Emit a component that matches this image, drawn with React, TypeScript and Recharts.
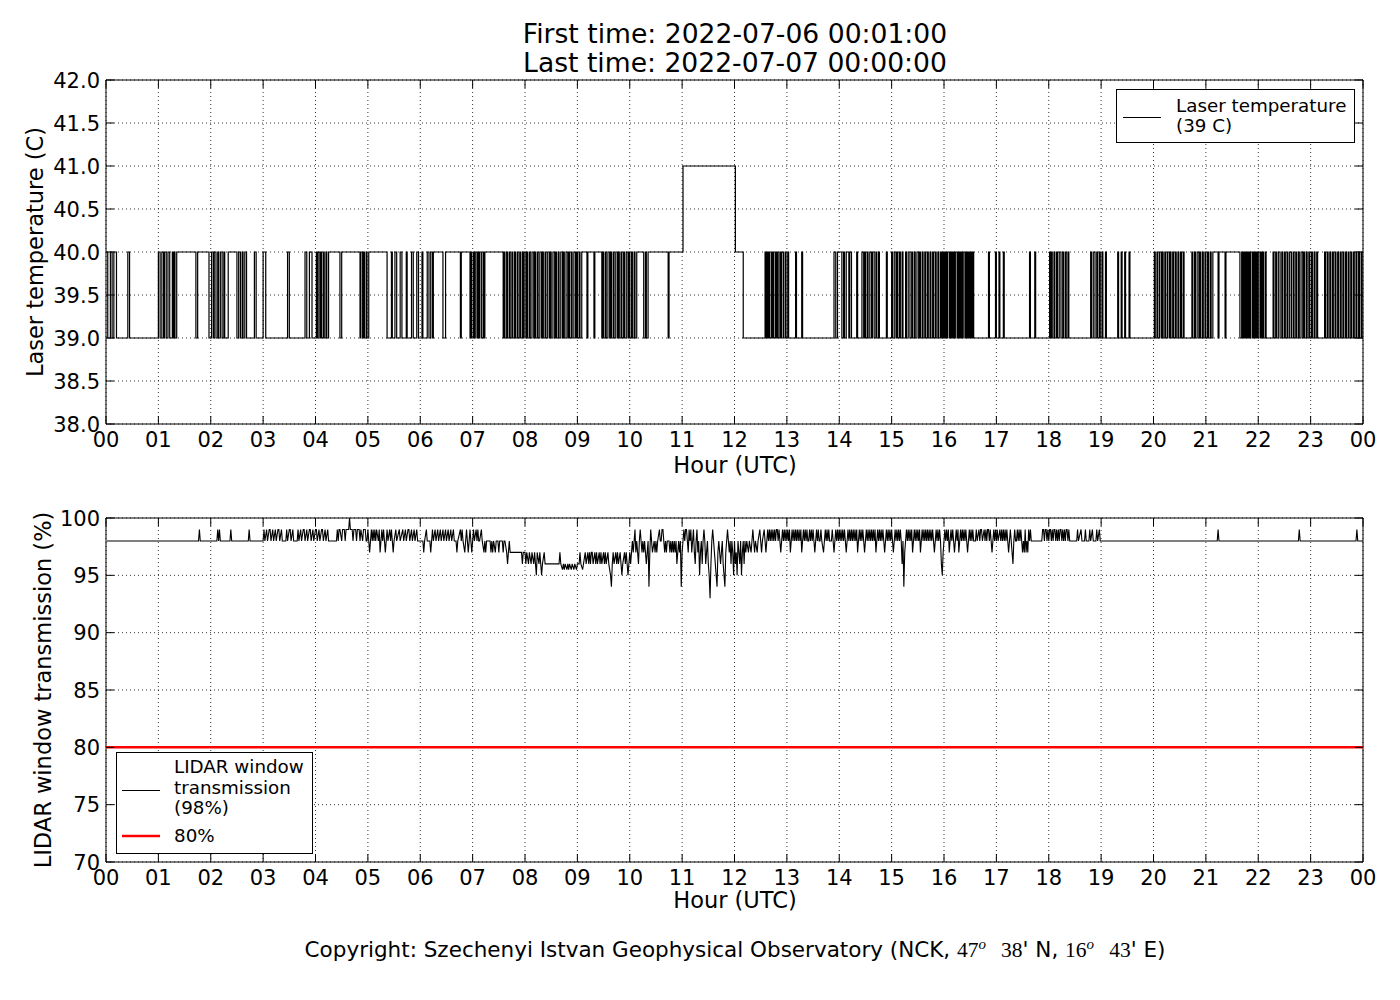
import React from 'react';
import { LineChart, Line, XAxis, YAxis, CartesianGrid, ReferenceArea, ReferenceLine } from 'recharts';

// hour axis shared by both panels
const hourTicks = [0, 1, 2, 3, 4, 5, 6, 7, 8, 9, 10, 11, 12, 13, 14, 15, 16, 17, 18, 19, 20, 21, 22, 23, 24];
const hourLabels = ['00', '01', '02', '03', '04', '05', '06', '07', '08', '09', '10', '11', '12', '13', '14', '15', '16', '17', '18', '19', '20', '21', '22', '23', '00'];
const laserTicks = [38, 38.5, 39, 39.5, 40, 40.5, 41, 41.5, 42];
const lidarTicks = [70, 75, 80, 85, 90, 95, 100];
const lidarThreshold = 80;

// laser temperature change log: [minute of day, value from then on]
const laserSteps: [number, number][] = [
  [1, 40], [2, 39], [5, 40], [7, 39], [9, 40], [12, 39], [25, 40], [27, 39],
  [60, 40], [62, 39], [64, 40], [66, 39], [67, 40], [69, 39], [71, 40], [73, 39], [76, 40], [77, 39], [78, 40], [79, 39], [81, 40], [103, 39], [105, 40], [118, 39],
  [121, 40], [123, 39], [124, 40], [126, 39], [128, 40], [129, 39], [131, 40], [133, 39], [135, 40], [136, 39], [140, 40], [150, 39], [152, 40], [154, 39], [156, 40], [157, 39], [159, 40], [161, 39],
  [170, 40], [172, 39], [180, 40], [183, 39], [208, 40], [210, 39], [228, 40], [230, 39], [233, 40], [236, 39],
  [241, 40], [242, 39], [243, 40], [245, 39], [246, 40], [247, 39], [249, 40], [250, 39], [252, 40], [253, 39], [255, 40], [268, 39], [270, 40], [291, 39], [292, 40], [294, 39], [295, 40], [296, 39], [298, 40], [299, 39], [301, 40], [322, 39],
  [327, 40], [328, 39], [331, 40], [333, 39], [337, 40], [339, 39], [344, 40], [345, 39], [350, 40], [352, 39], [356, 40], [358, 39], [362, 40], [363, 39], [368, 40], [370, 39], [372, 40], [374, 39],
  [375, 40], [386, 39], [389, 40], [406, 39], [407, 40], [417, 39], [418, 40], [419, 39], [421, 40], [422, 39], [423, 40], [425, 39], [426, 40], [427, 39], [428, 40], [430, 39],
  [432, 40], [433, 39], [434, 40], [455, 39], [456, 40], [457, 39], [459, 40], [460, 39], [462, 40], [463, 39], [465, 40], [466, 39], [468, 40], [469, 39], [471, 40], [472, 39],
  [474, 40], [475, 39], [477, 40], [478, 39], [479, 40], [481, 39], [482, 40], [483, 39], [485, 40], [486, 39], [488, 40], [490, 39], [491, 40], [492, 39], [494, 40], [495, 39], [497, 40], [499, 39],
  [500, 40], [501, 39], [503, 40], [504, 39], [506, 40], [508, 39], [509, 40], [510, 39], [512, 40], [514, 39], [515, 40], [516, 39], [518, 40], [519, 39], [521, 40], [523, 39], [524, 40], [525, 39],
  [527, 40], [529, 39], [530, 40], [531, 39], [533, 40], [534, 39], [536, 40], [538, 39], [539, 40], [540, 39], [542, 40], [543, 39], [545, 40], [551, 39], [552, 40], [559, 39], [560, 40], [568, 39],
  [569, 40], [570, 39], [572, 40], [573, 39], [575, 40], [577, 39], [578, 40], [579, 39], [581, 40], [582, 39], [584, 40], [586, 39], [587, 40], [588, 39], [590, 40], [591, 39], [593, 40], [594, 39],
  [596, 40], [598, 39], [599, 40], [600, 39], [602, 40], [603, 39], [605, 40], [606, 39], [608, 40], [616, 39], [618, 40], [619, 39], [621, 40], [644, 39], [645, 40], [661, 41], [721, 40], [730, 39],
  [755, 40], [756, 39], [757, 40], [758, 39], [759, 40], [760, 39], [762, 40], [763, 39], [764, 40], [765, 39], [767, 40], [768, 39], [769, 40], [770, 39], [772, 40], [773, 39], [774, 40], [776, 39], [778, 40], [779, 39], [781, 40], [782, 39],
  [790, 40], [791, 39], [797, 40], [798, 39],
  [834, 40], [836, 39], [838, 40], [843, 39], [845, 40], [846, 39], [848, 40], [851, 39], [852, 40], [854, 39], [860, 40], [861, 39], [866, 40], [868, 39], [869, 40], [870, 39], [872, 40], [873, 39],
  [875, 40], [877, 39], [878, 40], [880, 39], [882, 40], [883, 39], [885, 40], [886, 39], [894, 40], [895, 39], [900, 40], [901, 39], [903, 40], [905, 39], [906, 40], [907, 39], [909, 40], [910, 39],
  [912, 40], [913, 39], [916, 40], [917, 39], [919, 40], [921, 39], [923, 40], [924, 39], [926, 40], [927, 39], [929, 40], [931, 39], [932, 40], [933, 39], [935, 40], [936, 39], [938, 40], [939, 39],
  [941, 40], [942, 39], [944, 40], [945, 39], [947, 40], [948, 39], [950, 40], [951, 39], [953, 40], [954, 39],
  [956, 40], [957, 39], [958, 40], [959, 39], [960, 40], [961, 39], [962, 40], [963, 39], [964, 40], [966, 39], [967, 40], [968, 39], [969, 40], [970, 39], [971, 40], [972, 39], [973, 40], [975, 39],
  [976, 40], [977, 39], [978, 40], [979, 39], [980, 40], [981, 39], [982, 40], [984, 39], [985, 40], [986, 39], [987, 40], [988, 39], [989, 40], [990, 39], [991, 40], [992, 39], [993, 40], [994, 39],
  [1011, 40], [1012, 39], [1019, 40], [1020, 39], [1023, 40], [1024, 39], [1028, 40], [1029, 39], [1058, 40], [1059, 39], [1064, 40], [1065, 39],
  [1081, 40], [1082, 39], [1083, 40], [1084, 39], [1086, 40], [1087, 39], [1089, 40], [1090, 39], [1092, 40], [1094, 39], [1096, 40], [1097, 39], [1099, 40], [1100, 39], [1102, 40], [1103, 39],
  [1128, 40], [1129, 39], [1131, 40], [1133, 39], [1135, 40], [1136, 39], [1138, 40], [1139, 39], [1141, 40], [1142, 39], [1145, 40], [1146, 39],
  [1159, 40], [1160, 39], [1163, 40], [1164, 39], [1167, 40], [1168, 39], [1172, 40], [1173, 39],
  [1201, 40], [1202, 39], [1204, 40], [1205, 39], [1207, 40], [1209, 39], [1210, 40], [1211, 39], [1213, 40], [1214, 39], [1216, 40], [1218, 39], [1219, 40], [1220, 39], [1222, 40], [1223, 39],
  [1225, 40], [1226, 39], [1228, 40], [1229, 39], [1231, 40], [1232, 39], [1234, 40], [1235, 39], [1244, 40], [1245, 39], [1247, 40], [1248, 39], [1250, 40], [1252, 39], [1253, 40], [1254, 39],
  [1256, 40], [1257, 39], [1259, 40], [1260, 39], [1262, 40], [1263, 39], [1265, 40], [1266, 39], [1268, 40], [1274, 39], [1275, 40], [1282, 39], [1283, 40], [1299, 39],
  [1301, 40], [1302, 39], [1303, 40], [1304, 39], [1305, 40], [1306, 39], [1307, 40], [1308, 39], [1309, 40], [1310, 39], [1311, 40], [1313, 39], [1314, 40], [1315, 39], [1316, 40], [1317, 39],
  [1318, 40], [1319, 39], [1320, 40], [1322, 39], [1323, 40], [1324, 39], [1325, 40], [1326, 39], [1328, 40], [1329, 39], [1337, 40], [1338, 39], [1340, 40], [1341, 39], [1343, 40], [1345, 39],
  [1347, 40], [1348, 39], [1350, 40], [1351, 39], [1353, 40], [1354, 39], [1356, 40], [1358, 39], [1360, 40], [1361, 39], [1363, 40], [1364, 39], [1366, 40], [1367, 39], [1369, 40], [1371, 39],
  [1372, 40], [1373, 39], [1375, 40], [1376, 39], [1378, 40], [1379, 39], [1381, 40], [1382, 39], [1384, 40], [1385, 39], [1387, 40], [1388, 39], [1396, 40], [1397, 39], [1399, 40], [1400, 39],
  [1402, 40], [1403, 39], [1405, 40], [1406, 39], [1408, 40], [1409, 39], [1411, 40], [1412, 39], [1414, 40], [1415, 39], [1417, 40], [1418, 39], [1420, 40], [1421, 39], [1423, 40], [1424, 39],
  [1426, 40], [1427, 39], [1429, 40], [1430, 39], [1432, 40], [1433, 39], [1435, 40], [1436, 39], [1438, 40], [1439, 39], [1440, 39],
];

// LIDAR window transmission samples: [minute of day, percent]
const lidarSamples: [number, number][] = [
  [1, 98], [106, 98], [107, 99], [108, 98], [127, 98], [128, 99], [129, 98], [130, 99], [131, 98], [142, 98], [143, 99], [144, 98], [163, 98], [164, 99], [165, 98],
  [180, 98], [181, 99], [182, 98], [184, 99], [185, 98], [187, 99], [188, 99], [189, 98], [191, 99], [192, 98], [194, 99], [195, 98], [197, 99], [198, 99], [199, 98], [201, 99], [202, 98],
  [206, 98], [207, 99], [208, 98], [210, 99], [211, 99], [212, 98], [214, 99], [215, 98], [219, 98], [220, 99], [221, 98], [223, 99], [224, 98], [226, 99], [227, 99], [228, 98], [230, 99], [231, 98],
  [233, 99], [234, 99], [235, 98], [237, 99], [238, 98], [240, 99], [241, 99], [242, 98], [244, 99], [245, 98], [247, 99], [248, 99], [249, 98], [251, 99], [252, 98], [254, 99], [255, 98],
  [264, 98], [265, 99], [266, 98], [267, 99], [268, 99], [270, 98], [271, 99], [273, 99], [274, 98], [275, 99], [278, 99], [279, 100], [280, 99], [282, 99], [283, 98], [284, 99], [286, 99], [287, 98],
  [288, 99], [290, 99], [291, 98], [292, 99], [294, 98], [295, 99], [297, 99], [298, 98],
  [299, 98], [300, 99], [301, 98], [302, 97], [303, 98], [304, 99], [305, 98], [306, 99], [307, 98], [308, 99], [309, 98], [310, 99], [312, 98], [313, 99], [314, 97], [315, 98], [316, 99], [317, 98],
  [318, 99], [320, 97], [321, 98], [322, 99], [323, 98], [325, 99], [326, 98], [327, 99], [328, 98], [329, 97], [330, 98], [332, 99], [333, 98], [336, 99], [337, 98], [340, 99], [341, 98], [343, 99],
  [344, 98], [346, 99], [347, 99], [348, 98], [350, 99], [351, 98], [353, 99], [354, 98], [356, 99], [357, 98], [363, 98], [364, 97], [365, 98], [367, 99], [368, 98], [371, 98], [372, 97], [373, 98],
  [374, 99], [375, 98], [377, 99], [378, 98], [380, 99], [381, 98], [383, 99], [384, 98], [386, 99], [387, 98], [389, 99], [390, 98], [392, 99], [393, 98], [395, 99], [396, 98], [398, 99], [399, 98],
  [401, 98], [402, 97], [403, 98], [406, 99], [407, 98], [408, 99], [409, 98], [411, 97], [412, 98], [413, 99], [414, 98], [415, 97], [416, 98], [417, 99], [418, 98], [419, 97], [420, 98], [421, 99],
  [422, 98], [424, 99], [425, 98], [426, 99], [427, 98],
  [428, 98], [430, 99], [431, 98], [433, 97], [434, 98], [435, 97], [436, 98], [440, 98], [441, 97], [442, 98], [443, 97], [444, 98], [446, 97], [447, 98], [449, 98], [450, 97], [451, 98], [454, 98],
  [455, 97], [456, 98], [457, 98], [459, 97], [460, 96], [461, 97], [462, 98], [463, 97], [476, 97],
  [477, 96], [478, 97], [480, 97], [481, 96], [482, 97], [484, 96], [485, 97], [487, 96], [488, 97], [490, 96], [491, 97], [493, 95], [494, 97], [496, 96], [497, 97], [499, 95], [500, 96], [502, 97], [503, 96],
  [505, 96], [519, 96], [520, 97], [521, 96],
  [523, 95.5], [524, 96], [525, 95.5], [526, 96], [528, 95.5], [529, 96], [530, 95.5], [531, 96], [533, 95.5], [534, 96], [536, 95.5], [537, 96], [539, 95.5], [540, 96], [542, 96], [543, 97], [544, 96],
  [546, 95.5], [547, 96], [549, 97], [550, 96],
  [552, 97], [553, 96], [554, 97], [555, 96], [556, 97], [557, 97], [558, 96], [560, 97], [561, 96], [562, 97], [563, 96], [565, 97], [566, 96], [567, 97], [568, 96], [570, 97], [571, 96], [572, 97],
  [573, 96], [575, 97], [576, 96],
  [578, 95], [579, 94], [580, 96], [581, 97], [582, 96], [584, 97], [585, 96], [586, 97], [587, 96], [589, 97], [590, 96], [591, 95], [592, 96], [594, 97], [595, 96], [596, 97], [597, 96], [598, 95], [599, 96],
  [600, 97], [601, 96], [602, 97], [603, 98], [604, 97], [605, 98], [606, 99], [607, 97], [608, 98], [609, 97], [610, 96], [611, 98], [612, 99], [613, 98], [614, 97], [615, 98], [616, 97], [617, 98],
  [618, 97], [619, 96], [620, 97], [621, 98], [622, 94], [623, 97],
  [624, 99], [625, 98], [626, 97], [628, 98], [629, 97], [630, 98], [631, 97], [632, 98], [634, 99], [635, 98], [636, 98], [637, 99],
  [638, 99], [639, 98], [640, 97], [641, 98], [642, 97], [643, 98], [645, 98], [646, 97], [647, 98], [648, 97], [649, 98], [650, 97], [651, 98], [652, 97], [653, 98], [654, 96], [655, 97], [656, 98], [657, 97],
  [658, 98], [659, 94], [660, 97], [661, 98],
  [662, 99], [663, 98], [664, 99], [665, 99], [666, 98], [667, 97], [668, 99], [669, 98], [670, 99], [671, 97], [672, 98], [673, 99], [674, 97], [675, 96], [676, 98], [677, 99], [678, 97], [679, 98],
  [680, 95], [681, 97], [682, 98], [683, 96], [684, 98], [685, 99], [686, 98], [687, 96], [688, 97],
  [689, 98], [690, 96], [691, 95], [692, 93], [693, 96],
  [694, 98], [695, 99], [696, 98], [697, 97], [698, 96], [699, 95], [700, 94], [701, 97], [702, 98], [703, 97], [704, 96], [705, 97], [706, 98], [707, 96], [708, 95], [709, 94], [710, 97], [711, 98],
  [712, 99], [713, 98], [714, 97], [715, 98], [716, 96], [717, 98], [718, 97], [719, 95], [720, 98], [721, 96], [722, 97], [723, 95], [724, 98], [725, 97], [726, 96], [727, 98], [728, 95], [729, 97],
  [730, 98], [731, 96], [732, 98], [733, 97], [734, 98], [736, 97], [737, 98], [739, 97], [740, 98],
  [741, 99], [742, 98], [743, 97], [744, 98], [746, 97], [747, 98], [749, 99], [750, 98], [751, 97], [752, 98], [754, 99], [755, 98], [756, 97], [757, 98], [758, 99], [759, 98], [760, 99], [761, 98],
  [762, 99], [763, 98],
  [764, 99], [765, 98], [766, 99], [767, 98], [768, 99], [769, 99], [770, 98], [771, 99], [772, 98], [773, 97], [774, 98], [775, 99], [776, 98], [777, 99], [778, 98], [779, 99], [780, 98], [781, 99],
  [782, 98], [783, 99], [784, 97], [785, 98], [786, 99], [787, 98], [788, 99], [789, 98], [790, 99], [791, 98], [792, 99], [793, 98], [794, 99], [795, 98], [796, 99], [797, 97], [798, 98], [799, 99],
  [800, 98], [801, 99], [802, 98], [803, 99], [804, 98], [805, 98], [806, 99], [807, 98], [808, 99], [809, 98], [810, 99], [811, 98], [812, 97], [813, 98], [814, 99], [815, 98], [816, 99], [817, 98],
  [818, 98], [819, 99], [820, 98], [822, 97], [823, 98], [824, 99], [825, 98], [826, 99], [827, 98], [828, 99], [829, 98], [831, 98], [832, 99], [833, 98], [834, 97], [835, 98], [836, 99], [837, 98],
  [838, 99], [839, 98],
  [840, 99], [841, 98], [842, 99], [843, 98], [844, 99], [845, 98], [846, 99], [847, 98], [848, 97], [849, 98], [850, 99], [851, 98], [852, 99], [853, 98], [854, 99], [855, 98], [856, 99], [857, 98],
  [858, 99], [859, 98], [860, 99], [861, 97], [862, 98], [863, 99], [864, 98], [865, 99], [866, 98], [867, 99], [868, 98], [869, 97], [870, 98], [871, 99], [872, 98], [873, 99], [874, 98], [875, 99],
  [876, 98], [877, 99], [878, 98], [879, 99], [880, 98], [881, 99], [882, 97], [883, 98], [884, 99], [885, 98], [886, 99], [887, 98], [888, 99], [889, 98], [890, 99], [891, 98], [892, 97], [893, 98],
  [894, 99], [895, 98], [896, 99], [897, 98], [898, 99], [899, 98], [900, 99], [901, 98], [902, 97], [903, 98], [904, 99], [905, 98], [906, 99], [907, 98], [908, 99], [909, 98], [910, 99], [911, 98],
  [912, 96], [913, 98], [914, 94], [915, 97], [916, 98],
  [917, 99], [918, 98], [919, 99], [920, 98], [921, 99], [922, 98], [923, 99], [924, 97], [925, 98], [926, 99], [927, 98], [928, 99], [929, 98], [930, 99], [931, 98], [932, 99], [933, 97], [934, 98],
  [935, 99], [936, 98], [937, 99], [938, 98], [939, 99], [940, 98], [941, 99], [942, 98], [943, 99], [944, 98], [945, 99], [946, 98], [947, 99], [948, 98], [949, 97], [950, 98], [951, 99], [952, 98],
  [953, 99], [954, 98], [955, 99], [956, 98], [957, 96], [958, 95], [959, 97], [960, 98], [961, 99], [962, 98], [963, 99], [964, 98], [965, 99], [966, 97], [967, 98], [968, 99], [969, 98], [970, 99],
  [971, 98], [972, 97], [973, 98], [974, 99], [975, 98], [976, 99], [977, 97], [978, 98], [979, 99], [980, 98], [981, 99], [982, 98], [983, 99], [984, 98], [985, 99], [986, 98], [987, 97], [988, 98],
  [989, 99], [990, 98], [991, 99], [992, 98], [993, 99],
  [994, 98], [996, 98], [997, 99], [998, 98], [1000, 99], [1001, 98], [1002, 99], [1003, 99], [1004, 98], [1006, 99], [1007, 98], [1008, 99], [1009, 98], [1010, 99], [1011, 99], [1012, 98], [1013, 99],
  [1014, 98], [1015, 97], [1016, 98],
  [1017, 99], [1018, 98], [1019, 99], [1020, 98], [1021, 99], [1022, 98], [1024, 99], [1025, 98], [1026, 99], [1027, 98], [1028, 99], [1029, 98], [1030, 99], [1031, 98], [1032, 99], [1033, 98],
  [1034, 97], [1035, 98], [1036, 99], [1037, 98], [1038, 97], [1039, 96], [1040, 98], [1041, 99], [1042, 98],
  [1043, 98], [1044, 99], [1045, 98], [1046, 99], [1047, 98], [1048, 99], [1049, 98], [1050, 97], [1051, 98], [1052, 97], [1053, 99], [1054, 97], [1055, 98], [1056, 97], [1057, 99], [1058, 98],
  [1059, 99], [1060, 98], [1072, 98],
  [1073, 99], [1074, 99], [1075, 98], [1076, 99], [1077, 99], [1078, 98], [1079, 99], [1080, 98], [1081, 99], [1082, 99], [1083, 98], [1084, 99], [1085, 98], [1086, 99], [1087, 99], [1088, 98],
  [1089, 99], [1090, 98], [1091, 99], [1092, 98], [1093, 99], [1094, 99], [1095, 98], [1096, 99], [1097, 98], [1098, 99], [1099, 98], [1100, 99], [1101, 99], [1102, 98], [1103, 99], [1104, 98],
  [1112, 98], [1113, 99], [1114, 98], [1117, 99], [1118, 98], [1121, 98], [1122, 99], [1123, 98], [1126, 98], [1127, 99], [1128, 98], [1130, 99], [1131, 98], [1134, 98], [1135, 99], [1136, 98],
  [1138, 99], [1139, 98],
  [1273, 98], [1274, 99], [1275, 98], [1366, 98], [1367, 99], [1368, 98], [1432, 98], [1433, 99], [1434, 98], [1440, 98],
];

const laserData = laserSteps.map(([m, v]) => ({ h: m / 60, v }));
const lidarData = lidarSamples.map(([m, v]) => ({ h: m / 60, v }));

const FONT = '"DejaVu Sans", sans-serif';
const SERIF = '"Liberation Serif", serif';
const PLOT_W = 1257;
const PLOT_H = 344;

// matplotlib-classic ticks: pointing inward, drawn on both sides of the frame
const xTick = (props: any) => {
  const { x, y, payload } = props;
  const i = hourTicks.indexOf(payload.value);
  return (
    <g>
      <line x1={x} y1={y} x2={x} y2={y - 8} stroke="#000" />
      <line x1={x} y1={y - PLOT_H} x2={x} y2={y - PLOT_H + 8} stroke="#000" />
      <text x={x} y={y + 23} textAnchor="middle" fontSize={21} fontFamily={FONT} fill="#000">{hourLabels[i]}</text>
    </g>
  );
};

const yTick = (fmt: (v: number) => string) => (props: any) => {
  const { x, y, payload } = props;
  return (
    <g>
      <line x1={x} y1={y} x2={x + 8} y2={y} stroke="#000" />
      <line x1={x + PLOT_W - 8} y1={y} x2={x + PLOT_W} y2={y} stroke="#000" />
      <text x={x - 6} y={y + 7.5} textAnchor="end" fontSize={21} fontFamily={FONT} fill="#000">{fmt(payload.value)}</text>
    </g>
  );
};

const margin = { top: 80, right: 37, bottom: 0, left: 0 };

export default function App() {
  return (
    <div style={{ position: 'relative', width: 1400, height: 1000, background: '#fff' }}>
      <style>{'body{margin:0;background:#fff}'}</style>

      <div style={{ position: 'absolute', left: 0, top: 0 }}>
        <LineChart width={1400} height={480} data={laserData} margin={margin}>
          <CartesianGrid stroke="#000" strokeDasharray="1 3" strokeWidth={0.8} />
          <XAxis dataKey="h" type="number" domain={[0, 24]} ticks={hourTicks} interval={0} tick={xTick}
            tickLine={false} axisLine={false} tickSize={0} tickMargin={0} height={56} allowDataOverflow />
          <YAxis type="number" domain={[38, 42]} ticks={laserTicks} interval={0} tick={yTick(v => v.toFixed(1))}
            tickLine={false} axisLine={false} tickSize={0} tickMargin={0} width={106} allowDataOverflow />
          <ReferenceArea x1={0} x2={24} y1={38} y2={42} fill="none" fillOpacity={0} stroke="#000" strokeWidth={1} ifOverflow="visible" />
          <Line dataKey="v" type="stepAfter" stroke="#000" strokeWidth={1.2} dot={false} isAnimationActive={false} />
        </LineChart>
      </div>

      <div style={{ position: 'absolute', left: 0, top: 438 }}>
        <LineChart width={1400} height={480} data={lidarData} margin={margin}>
          <CartesianGrid stroke="#000" strokeDasharray="1 3" strokeWidth={0.8} />
          <XAxis dataKey="h" type="number" domain={[0, 24]} ticks={hourTicks} interval={0} tick={xTick}
            tickLine={false} axisLine={false} tickSize={0} tickMargin={0} height={56} allowDataOverflow />
          <YAxis type="number" domain={[70, 100]} ticks={lidarTicks} interval={0} tick={yTick(v => String(v))}
            tickLine={false} axisLine={false} tickSize={0} tickMargin={0} width={106} allowDataOverflow />
          <ReferenceArea x1={0} x2={24} y1={70} y2={100} fill="none" fillOpacity={0} stroke="#000" strokeWidth={1} ifOverflow="visible" />
          <ReferenceLine y={lidarThreshold} stroke="#ff0000" strokeWidth={2.5} />
          <Line dataKey="v" type="linear" stroke="#000" strokeWidth={1.1} dot={false} isAnimationActive={false} />
        </LineChart>
      </div>

      <svg width={1400} height={1000} style={{ position: 'absolute', left: 0, top: 0, pointerEvents: 'none' }}
        fontFamily={FONT} fill="#000">
        <text x={735} y={43} textAnchor="middle" fontSize={26.6}>First time: 2022-07-06 00:01:00</text>
        <text x={735} y={72} textAnchor="middle" fontSize={26.6}>Last time: 2022-07-07 00:00:00</text>

        <text x={735} y={473} textAnchor="middle" fontSize={22.5}>Hour (UTC)</text>
        <text x={735} y={908} textAnchor="middle" fontSize={22.5}>Hour (UTC)</text>
        <text transform="translate(43,252) rotate(-90)" textAnchor="middle" fontSize={22.5}>Laser temperature (C)</text>
        <text transform="translate(51,690) rotate(-90)" textAnchor="middle" fontSize={22.5}>LIDAR window transmission (%)</text>

        <rect x={1116.5} y={89.5} width={238} height={53} fill="#fff" stroke="#000" />
        <line x1={1123} y1={117.5} x2={1161} y2={117.5} stroke="#000" />
        <text x={1176} y={112} fontSize={18.3}>Laser temperature</text>
        <text x={1176} y={132} fontSize={18.3}>(39 C)</text>

        <rect x={116.5} y={752.5} width={196} height={101} fill="#fff" stroke="#000" />
        <line x1={122} y1={790.5} x2={160} y2={790.5} stroke="#000" />
        <text x={174} y={773} fontSize={18.3}>LIDAR window</text>
        <text x={174} y={794} fontSize={18.3}>transmission</text>
        <text x={174} y={814} fontSize={18.3}>(98%)</text>
        <line x1={122} y1={836} x2={160} y2={836} stroke="#ff0000" strokeWidth={2.5} />
        <text x={174} y={842} fontSize={18.3}>80%</text>

        <text x={735} y={957} textAnchor="middle" fontSize={21.5}>
          <tspan>Copyright: Szechenyi Istvan Geophysical Observatory (NCK, </tspan>
          <tspan fontFamily={SERIF}>47</tspan>
          <tspan fontFamily={SERIF} fontStyle="italic" fontSize={15} dy={-8}>o</tspan>
          <tspan fontFamily={SERIF} dy={8}>{'\u2002\u2009'}38</tspan>
          <tspan>' N, </tspan>
          <tspan fontFamily={SERIF}>16</tspan>
          <tspan fontFamily={SERIF} fontStyle="italic" fontSize={15} dy={-8}>o</tspan>
          <tspan fontFamily={SERIF} dy={8}>{'\u2002\u2009'}43</tspan>
          <tspan>' E)</tspan>
        </text>
      </svg>
    </div>
  );
}
